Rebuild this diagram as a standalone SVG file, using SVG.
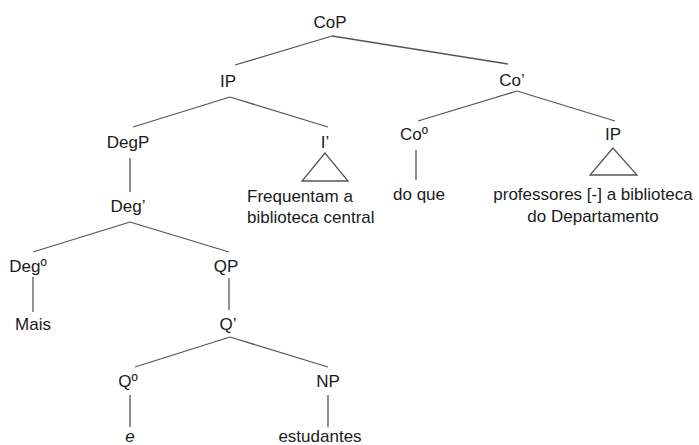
<svg xmlns="http://www.w3.org/2000/svg" width="699" height="445" viewBox="0 0 699 445">
<style>
text{font-family:"Liberation Sans",Arial,sans-serif;font-size:17px;fill:#1a1a1a;text-anchor:middle}
.l{stroke:#555;stroke-width:1.3;fill:none}
</style>
<rect width="699" height="445" fill="#fff"/>
<g id="connectors">
<line class="l" x1="332" y1="36" x2="235" y2="65"/>
<line class="l" x1="332" y1="36" x2="508" y2="64"/>
<line class="l" x1="230" y1="97" x2="133" y2="127"/>
<line class="l" x1="230" y1="97" x2="328" y2="127"/>
<line class="l" x1="517" y1="91" x2="418" y2="121"/>
<line class="l" x1="517" y1="91" x2="615" y2="121"/>
<line class="l" x1="130" y1="158" x2="130" y2="192"/>
<line class="l" x1="130" y1="222" x2="33" y2="252"/>
<line class="l" x1="130" y1="222" x2="229" y2="252"/>
<line class="l" x1="33" y1="277" x2="33" y2="312"/>
<line class="l" x1="229" y1="278" x2="229" y2="310"/>
<line class="l" x1="230" y1="337" x2="135" y2="367"/>
<line class="l" x1="230" y1="337" x2="328" y2="367"/>
<line class="l" x1="130" y1="395" x2="130" y2="427"/>
<line class="l" x1="328" y1="395" x2="328" y2="427"/>
<line class="l" x1="416" y1="150" x2="416" y2="180"/>
<polygon class="l" points="325,153 302,181 348,181"/>
<polygon class="l" points="613,148 590,175 637,175"/>
</g>
<g id="CoP"><text x="330" y="28">CoP</text></g>
<g id="IP"><text x="228" y="87">IP</text></g>
<g id="Co1"><text x="512" y="86">Co’</text></g>
<g id="DegP"><text x="128" y="148">DegP</text></g>
<g id="I1"><text x="325" y="148">I’</text></g>
<g id="I1-text"><text x="247" y="202" style="text-anchor:start">Frequentam a</text><text x="247" y="223" style="text-anchor:start">biblioteca central</text></g>
<g id="Co0"><text x="414" y="140">Coº</text></g>
<g id="IP2"><text x="613" y="140">IP</text></g>
<g id="doque"><text x="419" y="200">do que</text></g>
<g id="IP2-text"><text x="593" y="200">professores [-] a biblioteca</text><text x="593" y="222">do Departamento</text></g>
<g id="Deg1"><text x="128" y="212">Deg’</text></g>
<g id="Deg0"><text x="28" y="272">Degº</text></g>
<g id="QP"><text x="226" y="272">QP</text></g>
<g id="Mais"><text x="33" y="330">Mais</text></g>
<g id="Q1"><text x="228" y="330">Q’</text></g>
<g id="Q0"><text x="128" y="387">Qº</text></g>
<g id="NP"><text x="328" y="387">NP</text></g>
<g id="e"><text x="130" y="442" font-style="italic">e</text></g>
<g id="estudantes"><text x="320" y="442">estudantes</text></g>
</svg>
